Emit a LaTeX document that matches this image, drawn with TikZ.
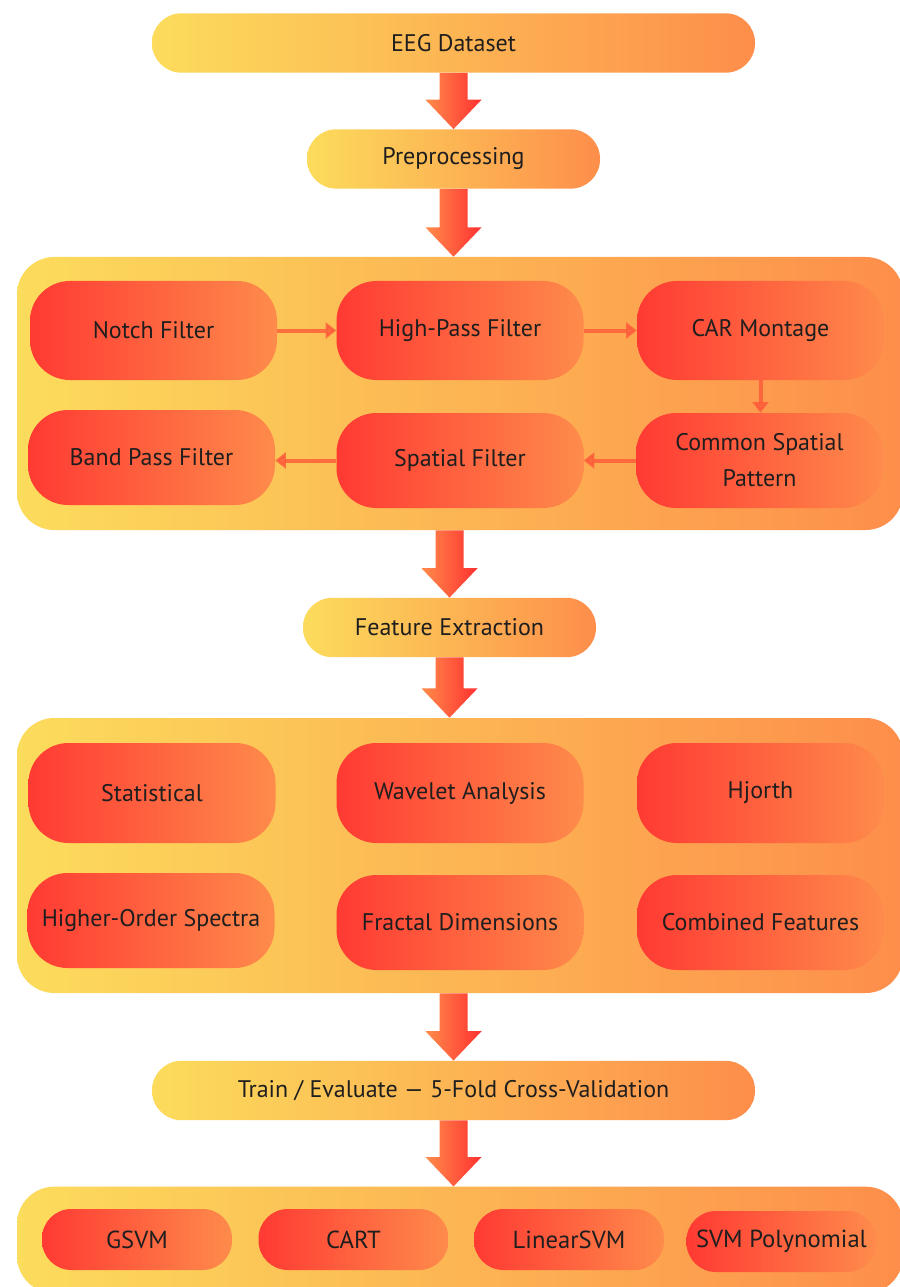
\documentclass[tikz,border=0pt]{standalone}
\usepackage{fontspec}
\setmainfont{PT Sans}
\usetikzlibrary{calc}
\usetikzlibrary{arrows.meta}

\definecolor{boxyel}{HTML}{FCDC5C}
\definecolor{boxorg}{HTML}{FD8E4B}
\definecolor{stepred}{HTML}{FF3A33}
\definecolor{steporg}{HTML}{FE8B4B}
\definecolor{arrred}{HTML}{FF3030}
\definecolor{arrorg}{HTML}{FF8C4B}
\definecolor{linkcol}{HTML}{FF5A3A}
\definecolor{txt}{HTML}{1E1E1E}

% big down arrow from #1 to tip #2
\newcommand\bigarrow[2]{%
  \shade[left color=arrorg,right color=arrred] let \p1=(#1), \p2=(#2) in
    (\x1-10.5pt,\y1) -- (\x1+10.5pt,\y1) -- (\x1+10.5pt,\y2+22pt) -- (\x1+21pt,\y2+22pt)
    -- (\x1,\y2) -- (\x1-21pt,\y2+22pt) -- (\x1-10.5pt,\y2+22pt) -- cycle;}

\begin{document}
\begin{tikzpicture}[x=0.75pt,y=-0.75pt,
    stage/.style={left color=boxyel,right color=boxorg,rounded corners=22pt,
        minimum height=44.5pt,text=txt,font=\fontsize{18}{21}\selectfont},
    panel/.style={left color=boxyel,right color=boxorg,rounded corners=28pt},
    stepbox/.style={left color=stepred,right color=steporg,rounded corners=30pt,
        minimum width=185.25pt,minimum height=74.25pt,text=txt,align=center,
        font=\fontsize{18}{27}\selectfont},
    model/.style={left color=stepred,right color=steporg,rounded corners=22pt,
        minimum width=142.5pt,minimum height=45.75pt,text=txt,
        font=\fontsize{18.5}{21}\selectfont},
    link/.style={-{Triangle[length=8pt,width=12pt]},line width=3pt,draw=linkcol,opacity=0.8}]
    \useasboundingbox[fill=white] (0,0) rectangle (899,1287);

    \node[stage,minimum width=452.25pt] (eeg) at (453.5,43) {EEG Dataset};
    \node[stage,minimum width=219.75pt] (prep) at (453.5,159) {Preprocessing};

    % preprocessing panel
    \node[panel,minimum width=664.5pt,minimum height=204.75pt] (box1) at (460,393.5) {};
    \node[stepbox] (notch) at (153.5,330.5) {Notch Filter};
    \node[stepbox] (hpass) at (460,330.5) {High-Pass Filter};
    \node[stepbox] (car) at (760.5,330.5) {CAR Montage};
    \node[stepbox,minimum height=71.25pt] (band) at (151.5,457.5) {Band Pass Filter};
    \node[stepbox,minimum height=71.25pt] (spat) at (460,460.5) {Spatial Filter};
    \node[stepbox,minimum height=71.25pt] (csp) at (759.5,460.5) {Common Spatial\\Pattern};
    \draw[link] (notch) -- (hpass);
    \draw[link] (hpass) -- (car);
    \draw[link] (car) -- (car.south |- csp.north);
    \draw[link] (csp) -- (spat);
    \draw[link] (spat.west) -- (spat.west -| band.east);

    \node[stage,minimum width=219.75pt] (feat) at (449.5,627.5) {Feature Extraction};

    % feature panel
    \node[panel,minimum width=664.5pt,minimum height=206.25pt] (box2) at (460,855.5) {};
    \node[stepbox,minimum height=75pt] (stat) at (152,793) {Statistical};
    \node[stepbox,minimum height=75pt] (wave) at (460,793) {Wavelet Analysis};
    \node[stepbox,minimum height=75pt] (hjorth) at (760.5,793) {Hjorth};
    \node[stepbox,minimum height=71.25pt] (hos) at (151,920.5) {Higher-Order Spectra};
    \node[stepbox,minimum height=71.25pt] (fract) at (460,922.5) {Fractal Dimensions};
    \node[stepbox,minimum height=71.25pt] (comb) at (760.5,922.5) {Combined Features};

    \node[stage,minimum width=452.25pt] (train) at (453.5,1090.5) {Train / Evaluate — 5-Fold Cross-Validation};

    % classifiers
    \node[panel,minimum width=664.5pt,minimum height=80pt] (box3) at (460,1240) {};
    \node[model] (gsvm) at (137,1239.5) {GSVM};
    \node[model] (cart) at (353.5,1239.5) {CART};
    \node[model] (lsvm) at (569,1239.5) {LinearSVM};
    \node[model] (psvm) at (781.5,1241.5) {SVM Polynomial};

    \bigarrow{eeg.south}{prep.north}
    \bigarrow{prep.south}{prep.south |- box1.north}
    \bigarrow{feat.north |- box1.south}{feat.north}
    \bigarrow{feat.south}{feat.south |- box2.north}
    \bigarrow{train.north |- box2.south}{train.north}
    \bigarrow{train.south}{train.south |- box3.north}
\end{tikzpicture}
\end{document}
